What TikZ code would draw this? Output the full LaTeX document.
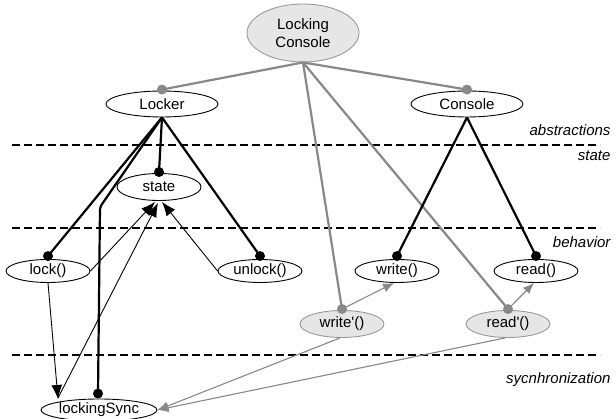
\documentclass[tikz,border=0pt]{standalone}
\usepackage{fontspec}
\setmainfont{Liberation Sans}
\usetikzlibrary{shapes.geometric,arrows.meta,calc}
\definecolor{linegray}{HTML}{888888}
\definecolor{fillgray}{HTML}{E6E6E6}
\definecolor{edgegray}{HTML}{999999}
\begin{document}
\begin{tikzpicture}[x=1pt,y=-1pt,
  every node/.style={font=\fontsize{15}{18}\selectfont},
  ell/.style={ellipse,draw=black,line width=0.9pt,inner sep=0pt,fill=white},
  gell/.style={ell,draw=edgegray,fill=fillgray},
  wide/.style={minimum width=112pt,minimum height=26pt},
  small/.style={minimum width=84pt,minimum height=23pt},
  tall/.style={minimum width=84pt,minimum height=27pt},
  lbl/.style={anchor=east,font=\fontsize{15}{18}\selectfont\itshape},
  gline/.style={draw=linegray,line width=2.2pt},
  bline/.style={draw=black,line width=2.2pt},
  tarrow/.style={draw=black,line width=0.9pt,-{Latex[length=14pt,width=11pt]}},
  garrow/.style={draw=linegray,line width=1.1pt,-{Latex[length=11pt,width=9pt]}},
  layer/.style={draw=black,line width=2pt,dash pattern=on 8pt off 4pt},
  bdot/.style={fill=black},
  gdot/.style={fill=linegray},
]
\useasboundingbox (0,0) rectangle (616,419);

% layer separators
\draw[layer] (12,145) -- (600,145);
\draw[layer] (12,228) -- (600,228);
\draw[layer] (12,355) -- (600,355);
\node[lbl] (tabs) at (614,130) {abstractions};
\node[lbl] (tstate) at (614,156) {state};
\node[lbl] (tbeh) at (614,242) {behavior};
\node[lbl] (tsync) at (614,380) {sycnhronization};

% components
\node[gell,minimum width=112pt,minimum height=58pt,align=center] (lc) at (303,33) {Locking\\Console};
\node[ell,wide] (locker) at (162,104) {Locker};
\node[ell,wide] (console) at (467,104) {Console};
\node[ell,tall] (state) at (159,187) {state};
\node[ell,small] (lock) at (48,271) {lock()};
\node[ell,small] (unlock) at (260,271) {unlock()};
\node[ell,small] (write) at (397,271) {write()};
\node[ell,small] (read) at (536,271) {read()};
\node[gell,tall] (writep) at (342,324) {write\textquotesingle()};
\node[gell,tall] (readp) at (508,324) {read\textquotesingle()};
\node[ell,minimum width=116pt,minimum height=22pt] (ls) at (99,410) {lockingSync};

% attachment points
\coordinate (lockerD) at ($(locker.north)+(0,-1)$);
\coordinate (consoleD) at ($(console.north)+(0,-1)$);
\coordinate (stateD) at ($(state.north)+(0,-1)$);
\coordinate (lockD) at ($(lock.north)+(0,-3)$);
\coordinate (unlockD) at ($(unlock.north)+(0,-3)$);
\coordinate (writeD) at ($(write.north)+(0,-3)$);
\coordinate (readD) at ($(read.north)+(0,-3)$);
\coordinate (writepD) at ($(writep.north)+(0,-1)$);
\coordinate (readpD) at ($(readp.north)+(0,-1)$);
\coordinate (lsD) at ($(ls.north)+(-1,-5)$);
\coordinate (bend) at (100,207);

% composition of the locking console
\draw[gline] (lc.south) -- (lockerD);
\draw[gline] (lc.south) -- (consoleD);
\draw[gline] (lc.south) -- (writepD);
\draw[gline] (lc.south) -- (readpD);

% composition of the parts
\draw[bline] (locker.south) -- (lockD);
\draw[bline] (locker.south) -- (stateD);
\draw[bline] (locker.south) -- (unlockD);
\draw[bline,rounded corners=3pt] (locker.south) -- (bend) -- (lsD);
\draw[bline] (console.south) -- (writeD);
\draw[bline] (console.south) -- (readD);

% dependencies
\draw[tarrow] (lock.east) -- ($(state.south)+(-4,1)$);
\draw[tarrow] ($(ls.center)+(-41,-12)$) -- ($(state.south)+(-1,2)$);
\draw[tarrow] (unlock.west) -- ($(state.south)+(3,1)$);
\draw[tarrow] (lock.south) -- ($(ls.center)+(-41,-11)$);
\draw[garrow] (writepD) -- ($(write.south)+(-3,0)$);
\draw[garrow] (readpD) -- ($(read.south)+(-2,0)$);
\draw[garrow] ($(writep.south)+(-2,0)$) -- (ls.east);
\draw[garrow] ($(readp.south)+(-3,0)$) -- (ls.east);

% joints
\fill[gdot] (lockerD) circle (5pt);
\fill[gdot] (consoleD) circle (5pt);
\fill[gdot] (writepD) circle (5pt);
\fill[gdot] (readpD) circle (5pt);
\fill[bdot] (stateD) circle (5pt);
\fill[bdot] (lockD) circle (5pt);
\fill[bdot] (unlockD) circle (5pt);
\fill[bdot] (writeD) circle (5pt);
\fill[bdot] (readD) circle (5pt);
\fill[bdot] (lsD) circle (5pt);
\end{tikzpicture}
\end{document}
